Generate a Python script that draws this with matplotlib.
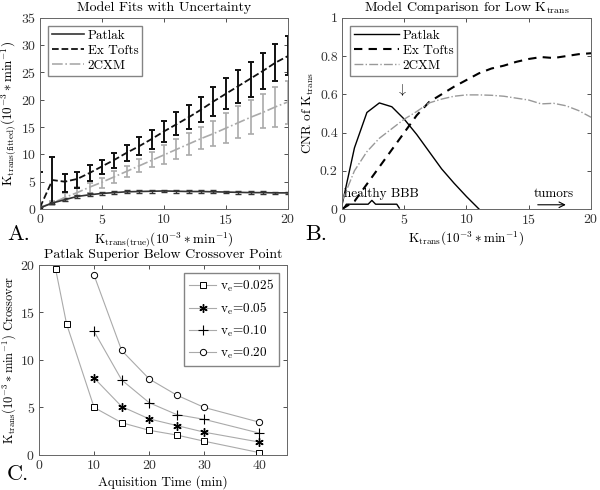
import matplotlib
matplotlib.use('Agg')
import matplotlib.pyplot as plt
import numpy as np

plt.rcParams['font.family'] = ['cmr10', 'DejaVu Serif']
plt.rcParams['mathtext.fontset'] = 'cm'
plt.rcParams['axes.formatter.use_mathtext'] = True
plt.rcParams['axes.unicode_minus'] = False

# ---- panel A: model fits with uncertainty ----
k_true = list(range(21))
patlak_fit = [0.2, 1.1, 1.7, 2.3, 2.6, 2.85, 3.0, 3.15, 3.2, 3.25, 3.3, 3.25, 3.2, 3.2, 3.15, 3.1, 3.05, 3.0, 3.0, 2.95, 2.95]
patlak_err = [0.2, 0.25, 0.25, 0.25, 0.25, 0.25, 0.25, 0.25, 0.25, 0.25, 0.25, 0.25, 0.25, 0.25, 0.25, 0.25, 0.25, 0.25, 0.25, 0.25, 0.25]
tofts_fit = [0.3, 5.3, 5.0, 5.5, 6.6, 7.8, 9.0, 10.3, 11.5, 12.8, 14.2, 15.5, 16.8, 18.2, 19.7, 21.1, 22.5, 23.9, 25.3, 26.8, 28.0]
tofts_lo = [0.0, 0.9, 3.2, 3.8, 5.2, 6.4, 7.5, 8.7, 9.9, 10.9, 12.2, 13.6, 14.7, 15.9, 17.1, 18.4, 19.5, 20.6, 22.0, 23.5, 24.6]
tofts_hi = [6.8, 9.5, 6.4, 6.8, 8.0, 9.0, 10.3, 11.8, 13.1, 14.5, 16.2, 17.8, 19.1, 20.6, 22.3, 23.9, 25.4, 26.9, 28.5, 30.2, 31.6]
cxm_fit = [0.3, 1.1, 2.1, 3.0, 4.0, 4.9, 5.9, 6.9, 7.9, 8.9, 9.9, 10.9, 11.9, 12.9, 13.8, 14.8, 15.8, 16.8, 17.7, 18.7, 19.6]
cxm_lo = [0.1, 0.8, 1.5, 2.3, 3.0, 3.8, 4.8, 5.8, 6.8, 7.7, 8.3, 9.2, 9.8, 10.9, 11.6, 12.1, 13.0, 13.8, 14.8, 15.0, 15.5]
cxm_hi = [0.5, 1.4, 3.0, 4.0, 4.7, 5.7, 6.9, 7.9, 9.1, 10.4, 11.8, 12.8, 14.0, 15.1, 16.2, 17.6, 18.8, 20.0, 21.0, 22.3, 23.5]

# ---- panel B: CNR comparison ----
k_patlak = [0, 1, 2, 3, 4, 5, 6, 7, 8, 9, 10, 11]
cnr_patlak = [0.02, 0.32, 0.505, 0.555, 0.535, 0.47, 0.39, 0.30, 0.21, 0.135, 0.065, 0.0]
k_all = list(range(21))
cnr_tofts = [0.0, 0.04, 0.13, 0.22, 0.31, 0.40, 0.49, 0.56, 0.60, 0.64, 0.675, 0.71, 0.735, 0.75, 0.77, 0.785, 0.795, 0.79, 0.80, 0.81, 0.815]
cnr_cxm = [0.04, 0.2, 0.30, 0.37, 0.42, 0.47, 0.51, 0.555, 0.575, 0.59, 0.597, 0.597, 0.595, 0.59, 0.58, 0.57, 0.55, 0.553, 0.54, 0.515, 0.48]

# ---- panel C: crossover point vs acquisition time ----
t_025 = [3, 5, 10, 15, 20, 25, 30, 40]
k_025 = [19.6, 13.8, 5.0, 3.4, 2.6, 2.1, 1.45, 0.25]
t_rest = [10, 15, 20, 25, 30, 40]
k_05 = [8.1, 5.1, 3.8, 3.1, 2.4, 1.36]
k_10 = [13.0, 7.9, 5.5, 4.25, 3.75, 2.3]
k_20 = [18.9, 11.0, 8.0, 6.3, 5.0, 3.45]

fig = plt.figure(figsize=(6, 4.9), dpi=100)
axA = fig.add_axes([0.0667, 0.5735, 0.413, 0.39])
axB = fig.add_axes([0.570, 0.5735, 0.415, 0.39])
axC = fig.add_axes([0.065, 0.0714, 0.4133, 0.388])

fs = 10        # ticks / titles
fl = 9.5       # axis labels / legends
edge = '#666666'


def style(ax):
    ax.tick_params(direction='in', length=3, width=0.6, top=True, right=True,
                   labelsize=fs, colors='#333333', pad=3)
    for s in ax.spines.values():
        s.set_color(edge)
        s.set_linewidth(0.7)


# A
axA.errorbar(k_true, cxm_fit,
             yerr=[np.array(cxm_fit) - np.array(cxm_lo), np.array(cxm_hi) - np.array(cxm_fit)],
             color='#aaaaaa', ls='-.', lw=1.2, capsize=2.5, elinewidth=1.2, capthick=1.2, label='2CXM')
axA.errorbar(k_true, tofts_fit,
             yerr=[np.array(tofts_fit) - np.array(tofts_lo), np.array(tofts_hi) - np.array(tofts_fit)],
             color='#111111', ls='--', lw=1.3, capsize=2.5, elinewidth=1.4, capthick=1.4, label='Ex Tofts')
axA.errorbar(k_true, patlak_fit, yerr=patlak_err, color='#333333', ls='-', lw=1.2,
             capsize=2, elinewidth=1.0, capthick=1.0, label='Patlak')
axA.set_xlim(0, 20)
axA.set_ylim(0, 35)
axA.set_xticks([0, 5, 10, 15, 20])
axA.set_yticks(range(0, 36, 5))
axA.set_title('Model Fits with Uncertainty', fontsize=fs, pad=5)
axA.set_xlabel(r'$\mathrm{K_{trans(true)}(10^{-3} \ast min^{-1})}$', fontsize=fl, labelpad=2)
axA.set_ylabel(r'$\mathrm{K_{trans(fitted)}(10^{-3} \ast min^{-1})}$', fontsize=fl, labelpad=2)
h, l = axA.get_legend_handles_labels()
h = [hh[0] for hh in h]
axA.legend(h[::-1], l[::-1], loc='upper left', fontsize=fl, frameon=True, fancybox=False,
           edgecolor=edge, handlelength=2.4, handletextpad=0.3, borderpad=0.3,
           labelspacing=0.2, borderaxespad=0.6)
style(axA)

# B
axB.plot(k_patlak, cnr_patlak, color='black', lw=1.0, label='Patlak')
axB.plot(k_all, cnr_tofts, color='black', ls=(0, (4, 3)), lw=1.5, label='Ex Tofts')
axB.plot(k_all, cnr_cxm, color='#999999', ls='-.', lw=1.0, label='2CXM')
axB.set_xlim(0, 20)
axB.set_ylim(0, 1)
axB.set_xticks([0, 5, 10, 15, 20])
axB.set_yticks([0, 0.2, 0.4, 0.6, 0.8, 1])
axB.set_yticklabels(['0', '0.2', '0.4', '0.6', '0.8', '1'])
axB.set_title(r'Model Comparison for Low K$_{\mathrm{trans}}$', fontsize=fs, pad=5)
axB.set_xlabel(r'$\mathrm{K_{trans}(10^{-3} \ast min^{-1})}$', fontsize=fl, labelpad=2)
axB.set_ylabel(r'CNR of K$_{\mathrm{trans}}$', fontsize=fl, labelpad=3)
axB.legend(loc='upper left', fontsize=fl, frameon=True, fancybox=False,
           edgecolor=edge, handlelength=3.4, handletextpad=0.3, borderpad=0.3,
           labelspacing=0.2, borderaxespad=0.6)
axB.text(4.8, 0.58, r'$\downarrow$', fontsize=fs, ha='center', va='bottom')
axB.text(0.15, 0.045, 'healthy BBB', fontsize=fl, ha='left', va='bottom')
bx = [0.15, 0.35, 2.1, 2.4, 2.7, 4.4, 4.6]
by = [0.005, 0.025, 0.025, 0.045, 0.025, 0.025, 0.005]
axB.plot(bx, by, color='black', lw=1.0)
axB.text(15.4, 0.045, 'tumors', fontsize=fl, ha='left', va='bottom')
axB.annotate('', xy=(18.2, 0.022), xytext=(15.5, 0.022),
             arrowprops=dict(arrowstyle='->', lw=0.8, color='black'))
style(axB)

# C
lc = '#aaaaaa'
axC.plot(t_025, k_025, color=lc, lw=0.8, marker='s', ms=4, mfc='white', mec='black', mew=0.7,
         label=r'v$_{\mathrm{e}}$=0.025')
axC.plot(t_rest, k_05, color=lc, lw=0.8, marker=(6, 2, 0), ms=6, mec='black', mew=1.0,
         label=r'v$_{\mathrm{e}}$=0.05')
axC.plot(t_rest, k_10, color=lc, lw=0.8, marker='+', ms=7, mec='black', mew=0.8,
         label=r'v$_{\mathrm{e}}$=0.10')
axC.plot(t_rest, k_20, color=lc, lw=0.8, marker='o', ms=4.5, mfc='white', mec='black', mew=0.7,
         label=r'v$_{\mathrm{e}}$=0.20')
axC.set_xlim(0, 45)
axC.set_ylim(0, 20)
axC.set_xticks([0, 10, 20, 30, 40])
axC.set_yticks([0, 5, 10, 15, 20])
axC.set_title('Patlak Superior Below Crossover Point', fontsize=fs, pad=5)
axC.set_xlabel('Aquisition Time (min)', fontsize=fl, labelpad=2)
axC.set_ylabel(r'K$_{\mathrm{trans}}$(10$^{-3}\ast$min$^{-1}$) Crossover', fontsize=9, labelpad=1)
axC.legend(loc='upper right', fontsize=fl, frameon=True, fancybox=False,
           edgecolor=edge, handlelength=2.0, handletextpad=0.3, borderpad=0.4,
           labelspacing=0.5, borderaxespad=0.6)
style(axC)

fig.text(0.012, 0.51, 'A.', fontsize=16)
fig.text(0.508, 0.51, 'B.', fontsize=16)
fig.text(0.012, 0.02, 'C.', fontsize=16)

fig.savefig('out.png', dpi=100)
